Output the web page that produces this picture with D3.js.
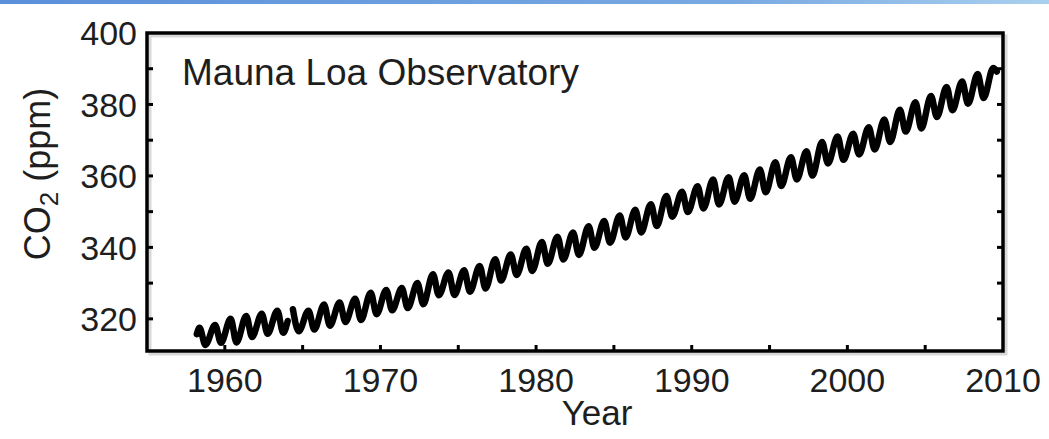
<!DOCTYPE html>
<html>
<head>
<meta charset="utf-8">
<script src="https://cdn.jsdelivr.net/npm/d3@7"></script>
<style>
  html, body { margin: 0; padding: 0; background: #fff; }
  svg { display: block; font-family: "Liberation Sans", Arial, sans-serif; }
</style>
</head>
<body>
<svg id="chart" width="1049" height="439"></svg>
<script>
// Mauna Loa record: yearly May maximum and Sep/Oct minimum (ppm)
const years = [1958, 1959, 1960, 1961, 1962, 1963, 1964, 1965, 1966, 1967,
  1968, 1969, 1970, 1971, 1972, 1973, 1974, 1975, 1976, 1977,
  1978, 1979, 1980, 1981, 1982, 1983, 1984, 1985, 1986, 1987,
  1988, 1989, 1990, 1991, 1992, 1993, 1994, 1995, 1996, 1997,
  1998, 1999, 2000, 2001, 2002, 2003, 2004, 2005, 2006, 2007,
  2008, 2009];
const mayPeak = [317.5, 318.3, 320.0, 320.8, 321.4, 322.3, 322.7, 322.3, 324.0, 324.6,
  325.6, 327.3, 328.1, 328.6, 330.0, 332.5, 333.0, 333.6, 334.8, 336.7,
  338.0, 339.6, 341.5, 343.0, 344.2, 345.9, 347.4, 348.9, 350.5, 352.1,
  354.4, 355.6, 357.1, 359.0, 359.6, 360.2, 361.8, 363.8, 365.2, 366.9,
  369.5, 371.0, 371.8, 373.6, 375.8, 378.5, 380.6, 382.4, 384.9, 386.4,
  388.5, 390.2];
const autumnLow = [312.7, 313.3, 313.4, 314.9, 315.8, 316.1, 316.5, 317.0, 318.1, 319.1,
  319.7, 321.3, 322.4, 323.0, 324.1, 326.6, 326.7, 327.6, 328.5, 330.7,
  332.3, 333.4, 335.4, 336.6, 337.9, 339.9, 341.3, 342.8, 344.2, 346.0,
  348.6, 349.9, 350.9, 352.0, 352.8, 353.6, 355.4, 357.2, 359.0, 360.1,
  363.5, 364.5, 366.0, 367.4, 369.5, 372.4, 373.3, 376.5, 378.4, 380.2,
  381.8, null];
const firstValue = [1958.2, 315.7];   // start of record
const gapBefore = 1964;               // Feb–Apr 1964 missing
const lastValue = [2009.6, 389.2];    // end of plotted record

const yTicks = [320, 340, 360, 380, 400];
const yMinor = [320, 330, 340, 350, 360, 370, 380, 390];
const xTicks = [1960, 1970, 1980, 1990, 2000, 2010];
const xMinor = [1960, 1965, 1970, 1975, 1980, 1985, 1990, 1995, 2000, 2005];

// build the point list
const points = [{t: firstValue[0], v: firstValue[1]}];
years.forEach((yr, i) => {
  if (yr === gapBefore) {
    points.push({t: yr + 0.04, v: 319.4});
    points.push({t: yr + 0.2, v: null});
  }
  points.push({t: yr + 0.375, v: mayPeak[i]});
  if (autumnLow[i] != null) points.push({t: yr + 0.75, v: autumnLow[i]});
});
points.push({t: lastValue[0], v: lastValue[1]});

const svg = d3.select("#chart");
const pLeft = 147, pRight = 1003, pTop = 33, pBottom = 351;

const x = d3.scaleLinear().domain([1955, 2010]).range([pLeft, pRight]);
const y = d3.scaleLinear().domain([311, 400]).range([pBottom, pTop]);

// slide band at the top
const defs = svg.append("defs");
const grad = defs.append("linearGradient").attr("id", "band");
grad.append("stop").attr("offset", "0%").attr("stop-color", "#5b8fda");
grad.append("stop").attr("offset", "70%").attr("stop-color", "#79a9e2");
grad.append("stop").attr("offset", "100%").attr("stop-color", "#a9d0ee");
svg.append("rect").attr("x", 0).attr("y", 0).attr("width", 1049).attr("height", 4)
  .attr("fill", "url(#band)");

// faint shadow of the frame
svg.append("rect")
  .attr("x", pLeft + 3).attr("y", pTop + 3)
  .attr("width", pRight - pLeft).attr("height", pBottom - pTop)
  .attr("fill", "none").attr("stroke", "#d8d8d8").attr("stroke-width", 3);

// the curve
const line = d3.line()
  .defined(d => d.v != null)
  .x(d => x(d.t))
  .y(d => y(d.v))
  .curve(d3.curveMonotoneX);

svg.append("path")
  .datum(points)
  .attr("d", line)
  .attr("fill", "none")
  .attr("stroke", "#000")
  .attr("stroke-width", 6.5)
  .attr("stroke-linejoin", "round")
  .attr("stroke-linecap", "round");

// inward ticks
const tickLen = 6;
const g = svg.append("g").attr("stroke", "#000").attr("stroke-width", 3);
g.selectAll(".yl").data(yMinor).join("line")
  .attr("x1", pLeft).attr("x2", pLeft + tickLen)
  .attr("y1", d => y(d)).attr("y2", d => y(d));
g.selectAll(".yr").data(yMinor).join("line")
  .attr("x1", pRight).attr("x2", pRight - tickLen)
  .attr("y1", d => y(d)).attr("y2", d => y(d));
g.selectAll(".xb").data(xMinor).join("line")
  .attr("x1", d => x(d)).attr("x2", d => x(d))
  .attr("y1", pBottom).attr("y2", pBottom - tickLen);

// frame
svg.append("rect")
  .attr("x", pLeft).attr("y", pTop)
  .attr("width", pRight - pLeft).attr("height", pBottom - pTop)
  .attr("fill", "none").attr("stroke", "#000").attr("stroke-width", 3.5);

// tick labels
svg.append("g").selectAll("text").data(yTicks).join("text")
  .attr("x", pLeft - 10).attr("y", d => y(d))
  .attr("dy", "0.36em")
  .attr("text-anchor", "end")
  .attr("font-size", 34)
  .attr("fill", "#1e1e1e")
  .text(d => d);

svg.append("g").selectAll("text").data(xTicks).join("text")
  .attr("x", d => x(d)).attr("y", pBottom + 41)
  .attr("text-anchor", "middle")
  .attr("font-size", 34)
  .attr("fill", "#1e1e1e")
  .text(d => d);

// axis titles
svg.append("text")
  .attr("x", 597).attr("y", 425)
  .attr("text-anchor", "middle")
  .attr("font-size", 35)
  .attr("fill", "#1e1e1e")
  .text("Year");

const yt = svg.append("text")
  .attr("transform", "translate(50,174) rotate(-90)")
  .attr("text-anchor", "middle")
  .attr("font-size", 36)
  .attr("fill", "#1e1e1e");
yt.append("tspan").text("CO");
yt.append("tspan").attr("font-size", 26).attr("dy", 8).text("2");
yt.append("tspan").attr("dy", -8).text(" (ppm)");

// label inside the plot
svg.append("text")
  .attr("x", 182).attr("y", 85)
  .attr("font-size", 37)
  .attr("fill", "#1e1e1e")
  .text("Mauna Loa Observatory");
</script>
</body>
</html>
